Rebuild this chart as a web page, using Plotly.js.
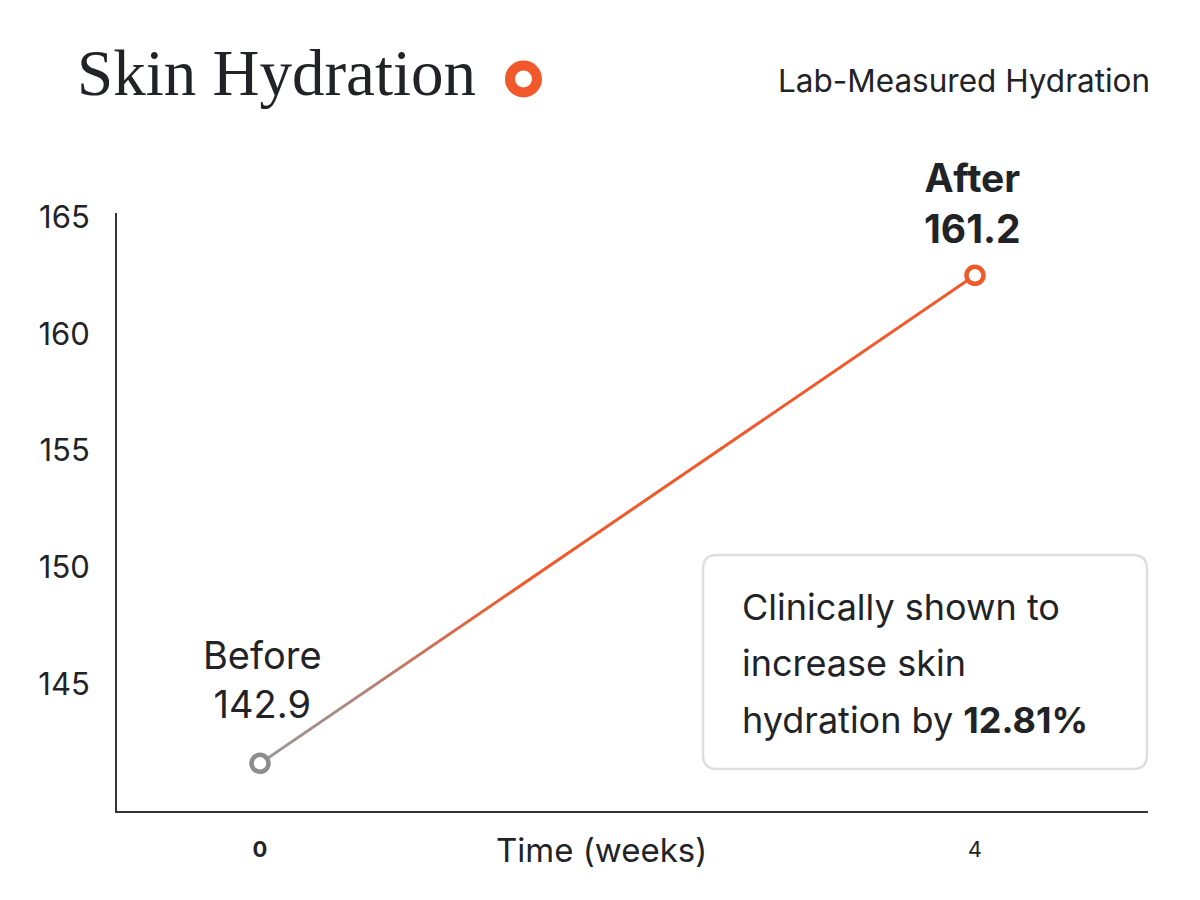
<!DOCTYPE html>
<html>
<head>
<meta charset="utf-8">
<script src="https://cdn.plot.ly/plotly-3.0.1.min.js"></script>
<style>html,body{margin:0;padding:0;background:#fff;}#chart{width:1200px;height:900px;}</style>
</head>
<body>
<div id="chart"></div>
<script>
// ---- data ----
const weeks = [0, 4];
const plottedHydration = [141.6, 162.5];   // vertical positions as drawn
const pointLabels = ["Before", "After"];
const displayValues = ["142.9", "161.2"];
const xTickVals = [0, 4];
const xTickText = ["0", "4"];
const yTickVals = [145, 150, 155, 160, 165];
const calloutLines = ["Clinically shown to", "increase skin", "hydration by "];
const calloutValue = "12.81%";

const FONT = "Inter, Lato, 'Noto Sans', sans-serif";
const SERIF = "'Liberation Serif', 'DejaVu Serif', serif";
const ORANGE = "#F1592A";
const GREY = "#8E8E8E";
const INK = "#222326";

// pixel->paper helpers (plot area 117..1148 x 213..811)
const L = 117, R = 1148, T = 213, B = 811;
const px = v => (v - L) / (R - L);
const py = v => (B - v) / (B - T);

const trace = {
  x: weeks,
  y: plottedHydration,
  type: "scatter",
  mode: "lines+markers",
  line: {color: ORANGE, width: 3},
  marker: {
    size: 17,
    color: "#ffffff",
    line: {color: [GREY, ORANGE], width: 4.5}
  },
  hoverinfo: "skip",
  cliponaxis: false
};

const annotations = [];
pointLabels.forEach((lab, i) => {
  const bold = i === 1;
  annotations.push({
    x: weeks[i], y: plottedHydration[i], xref: "x", yref: "y",
    text: bold ? "<b>" + lab + "</b><br><b>" + displayValues[i] + "</b>" : lab + "<br>" + displayValues[i],
    showarrow: false,
    xanchor: "center", yanchor: "middle",
    xshift: bold ? -2 : 2,
    yshift: bold ? 72 : 84,
    font: {family: FONT, size: bold ? 39 : 38, color: INK},
    align: "center"
  });
});

// callout text
const lineYs = [607, 663, 720];
calloutLines.forEach((t, i) => {
  annotations.push({
    x: px(740), y: py(lineYs[i]), xref: "paper", yref: "paper",
    text: i === calloutLines.length - 1 ? t + "<b>" + calloutValue + "</b>" : t,
    showarrow: false, xanchor: "left", yanchor: "middle",
    font: {family: FONT, size: 36, color: INK}
  });
});

// x axis title
annotations.push({
  x: px(601), y: py(850), xref: "paper", yref: "paper",
  text: "Time (weeks)", showarrow: false, xanchor: "center", yanchor: "middle",
  font: {family: FONT, size: 33, color: INK}
});
// subtitle right
annotations.push({
  x: px(1152), y: py(80), xref: "paper", yref: "paper",
  text: "Lab-Measured Hydration", showarrow: false, xanchor: "right", yanchor: "middle",
  font: {family: FONT, size: 31.5, color: INK}
});

// rounded callout box
const bx0 = px(703), bx1 = px(1147), byT = py(555), byB = py(769);
const rx = 14 / (R - L), ry = 14 / (B - T);
const boxPath = `M ${bx0 + rx},${byT} L ${bx1 - rx},${byT} Q ${bx1},${byT} ${bx1},${byT - ry} ` +
  `L ${bx1},${byB + ry} Q ${bx1},${byB} ${bx1 - rx},${byB} L ${bx0 + rx},${byB} ` +
  `Q ${bx0},${byB} ${bx0},${byB + ry} L ${bx0},${byT - ry} Q ${bx0},${byT} ${bx0 + rx},${byT} Z`;

const shapes = [
  {type: "path", xref: "paper", yref: "paper", path: boxPath,
   line: {color: "#DEDEDE", width: 2.5}, fillcolor: "rgba(255,255,255,0)", layer: "below"},
  {type: "circle", xref: "paper", yref: "paper",
   x0: px(510), x1: px(537), y0: py(92.5), y1: py(65.5),
   line: {color: ORANGE, width: 10}, fillcolor: "#ffffff"}
];

const layout = {
  width: 1200, height: 900,
  margin: {l: L, r: 1200 - R, t: T, b: 900 - B},
  paper_bgcolor: "#ffffff", plot_bgcolor: "#ffffff",
  showlegend: false,
  title: {
    text: "Skin Hydration",
    xref: "container", yref: "container",
    x: 77 / 1200, xanchor: "left",
    y: 1 - 72 / 900, yanchor: "middle",
    font: {family: SERIF, size: 65, color: INK}
  },
  xaxis: {
    range: [-0.8, 4.968],
    tickvals: xTickVals,
    ticktext: xTickText.map((t, i) => i === 0 ? "<b><span style='font-size:22px'>" + t + "</span></b>" : t),
    tickfont: {family: FONT, size: 22, color: INK},
    showgrid: false, zeroline: false,
    showline: true, linecolor: "#333333", linewidth: 2,
    ticks: "", ticklabelstandoff: 18,
    fixedrange: true
  },
  yaxis: {
    range: [139.56, 165.17],
    tickvals: yTickVals,
    tickfont: {family: FONT, size: 31, color: INK},
    showgrid: false, zeroline: false,
    showline: true, linecolor: "#333333", linewidth: 2,
    ticks: "", ticklabelstandoff: 19,
    fixedrange: true
  },
  annotations: annotations,
  shapes: shapes
};

Plotly.newPlot("chart", [trace], layout, {displayModeBar: false, staticPlot: true}).then(gd => {
  const svg = gd.querySelector("svg.main-svg");
  let defs = svg.querySelector("defs");
  if (!defs) { defs = document.createElementNS("http://www.w3.org/2000/svg", "defs"); svg.insertBefore(defs, svg.firstChild); }
  const ns = "http://www.w3.org/2000/svg";
  const grad = document.createElementNS(ns, "linearGradient");
  grad.setAttribute("id", "lineGrad");
  grad.setAttribute("x1", "0"); grad.setAttribute("y1", "0");
  grad.setAttribute("x2", "1"); grad.setAttribute("y2", "0");
  [["0%", "#9A9A9A"], ["12%", "#A98A84"], ["35%", ORANGE], ["100%", ORANGE]].forEach(([o, c]) => {
    const s = document.createElementNS(ns, "stop");
    s.setAttribute("offset", o); s.setAttribute("stop-color", c);
    grad.appendChild(s);
  });
  defs.appendChild(grad);
  gd.querySelectorAll(".scatterlayer .js-line").forEach(p => {
    p.style.stroke = "url(#lineGrad)";
  });
});
</script>
</body>
</html>
